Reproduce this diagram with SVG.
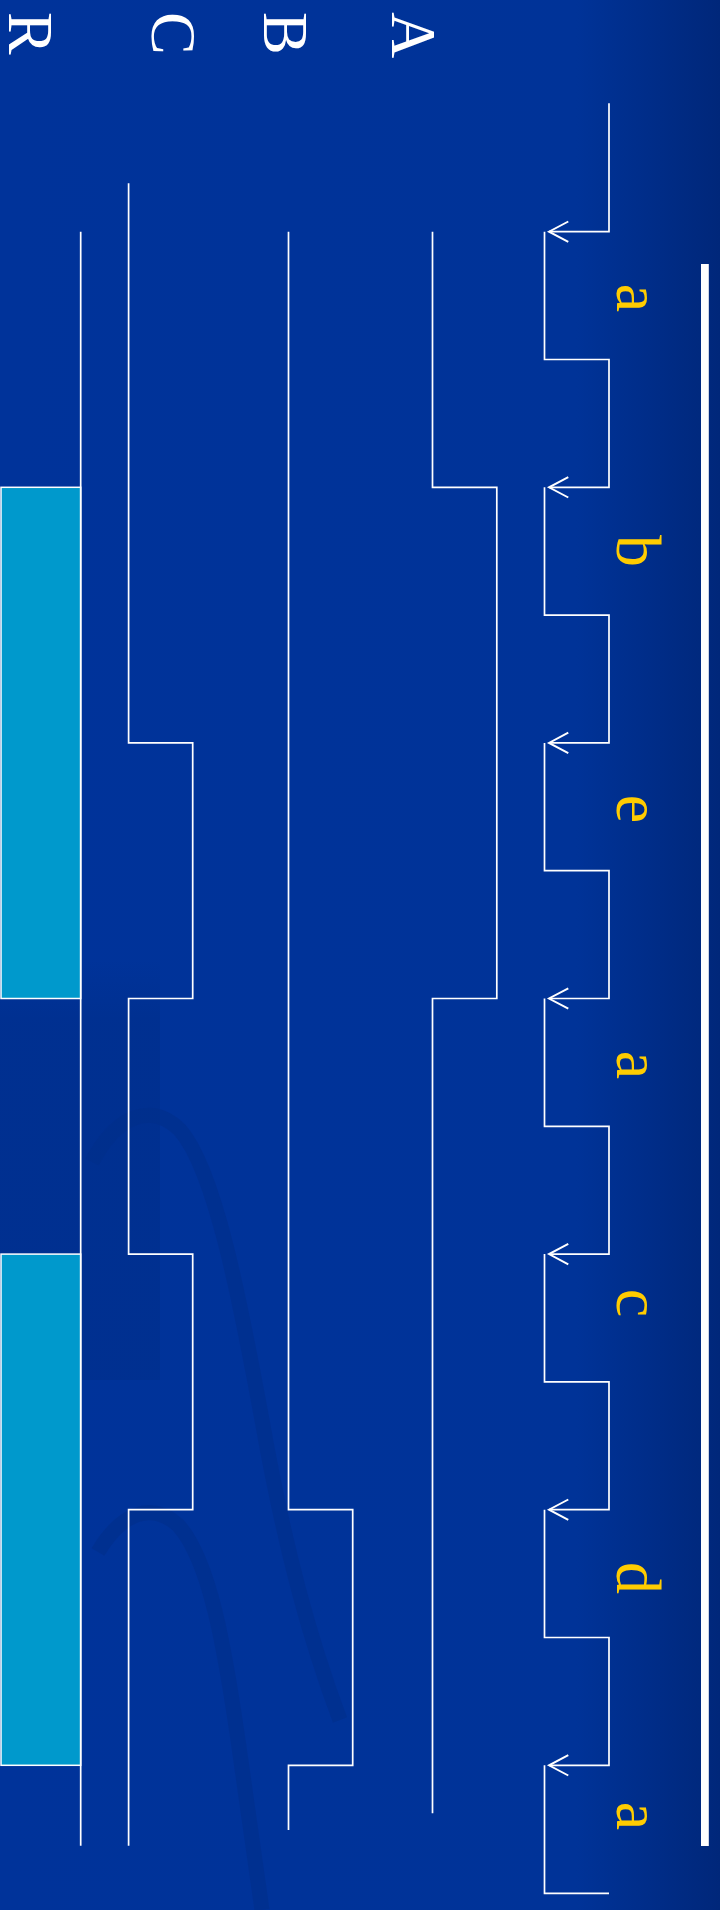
<svg xmlns="http://www.w3.org/2000/svg" width="720" height="1910" viewBox="0 0 720 1910">
  <defs>
    <linearGradient id="bg" x1="0" y1="0" x2="1" y2="0">
      <stop offset="0" stop-color="#00339A"/>
      <stop offset="0.8" stop-color="#003398"/>
      <stop offset="1" stop-color="#00277A"/>
    </linearGradient>
    <linearGradient id="shade" x1="0" y1="0" x2="0" y2="1">
      <stop offset="0" stop-color="#002F8E" stop-opacity="0"/>
      <stop offset="0.15" stop-color="#002F8E" stop-opacity="0.8"/>
      <stop offset="1" stop-color="#002F8E" stop-opacity="0.8"/>
    </linearGradient>
    <marker id="arr" markerUnits="userSpaceOnUse" markerWidth="30" markerHeight="30" viewBox="-22 -14 26 28" refX="0" refY="0" orient="auto" overflow="visible">
      <path d="M-18,-9.5 L0,0 L-18,9.5" fill="none" stroke="#FFFFFF" stroke-width="1.8"/>
    </marker>
    <style>
      .sig { fill: none; stroke: #FFFFFF; stroke-width: 1.7; }
      .clk { fill: none; stroke: #FFFFFF; stroke-width: 1.7; }
      .lbl { font-family: "Liberation Serif", "Times New Roman", serif; font-size: 64px; fill: #FFFFFF; }
      .clklbl { font-family: "Liberation Serif", "Times New Roman", serif; font-size: 64px; fill: #FFCC00; text-anchor: middle; }
      .band { fill: none; stroke: #002E8A; stroke-width: 15; stroke-linecap: butt; opacity: 0.6; }
      .rfill { fill: #0099CC; stroke: #FFFFFF; stroke-width: 1.5; }
    </style>
  </defs>

  <!-- background -->
  <rect x="0" y="0" width="720" height="1910" fill="url(#bg)"/>
  <rect x="0" y="960" width="160" height="420" fill="url(#shade)"/>
  <path class="band" d="M92,1162 C115,1118 150,1100 180,1130 C215,1170 240,1300 262,1420 C285,1550 310,1640 340,1720"/>
  <path class="band" d="M98,1552 C120,1515 150,1500 178,1525 C210,1560 225,1650 238,1740 C248,1810 255,1860 262,1910"/>

  <!-- top bar -->
  <rect id="bar" x="701" y="264" width="7.8" height="1582" fill="#FFFFFF"/>

  <!-- signal labels -->
  <g id="label-A"><text class="lbl" transform="translate(392,12) rotate(90)">A</text></g>
  <g id="label-B"><text class="lbl" transform="translate(264,12) rotate(90)">B</text></g>
  <g id="label-C"><text class="lbl" transform="translate(152,12) rotate(90)">C</text></g>
  <g id="label-R"><text class="lbl" transform="translate(9,12) rotate(90)">R</text></g>

  <!-- R output regions -->
  <g id="R-high-1"><rect class="rfill" x="1" y="487.3" width="79.7" height="511.2"/></g>
  <g id="R-high-2"><rect class="rfill" x="1" y="1254.1" width="79.7" height="511.2"/></g>

  <!-- signals -->
  <g id="signals">
    <path id="sig-A" class="sig" d="M432.5,231.7 V487.3 H496.8 V998.5 H432.5 V1813.3"/>
    <path id="sig-B" class="sig" d="M288.5,231.7 V1509.7 H352.7 V1765.3 H288.5 V1830"/>
    <path id="sig-C" class="sig" d="M128.6,183.3 V742.9 H192.7 V998.5 H128.6 V1254.1 H192.7 V1509.7 H128.6 V1845.7"/>
    <path id="sig-R" class="sig" d="M80.7,231.7 V1845.7"/>
  </g>

  <!-- clock connectors -->
  <g id="clock">
    <path class="clk" marker-end="url(#arr)" d="M609,103.3 V231.7 H549"/>
    <path class="clk" marker-end="url(#arr)" d="M544.5,231.7 V359.5 H609 V487.3 H549"/>
    <path class="clk" marker-end="url(#arr)" d="M544.5,487.3 V615.1 H609 V742.9 H549"/>
    <path class="clk" marker-end="url(#arr)" d="M544.5,742.9 V870.7 H609 V998.5 H549"/>
    <path class="clk" marker-end="url(#arr)" d="M544.5,998.5 V1126.3 H609 V1254.1 H549"/>
    <path class="clk" marker-end="url(#arr)" d="M544.5,1254.1 V1381.9 H609 V1509.7 H549"/>
    <path class="clk" marker-end="url(#arr)" d="M544.5,1509.7 V1637.5 H609 V1765.3 H549"/>
    <path class="clk" d="M544.5,1765.3 V1893.3 H609"/>
  </g>

  <!-- clock input labels -->
  <g id="clock-labels">
    <text class="clklbl" transform="translate(617,298) rotate(90)">a</text>
    <text class="clklbl" transform="translate(617,551) rotate(90)">b</text>
    <text class="clklbl" transform="translate(617,809) rotate(90)">e</text>
    <text class="clklbl" transform="translate(617,1065) rotate(90)">a</text>
    <text class="clklbl" transform="translate(617,1303) rotate(90)">c</text>
    <text class="clklbl" transform="translate(617,1578) rotate(90)">d</text>
    <text class="clklbl" transform="translate(617,1816) rotate(90)">a</text>
  </g>
</svg>
